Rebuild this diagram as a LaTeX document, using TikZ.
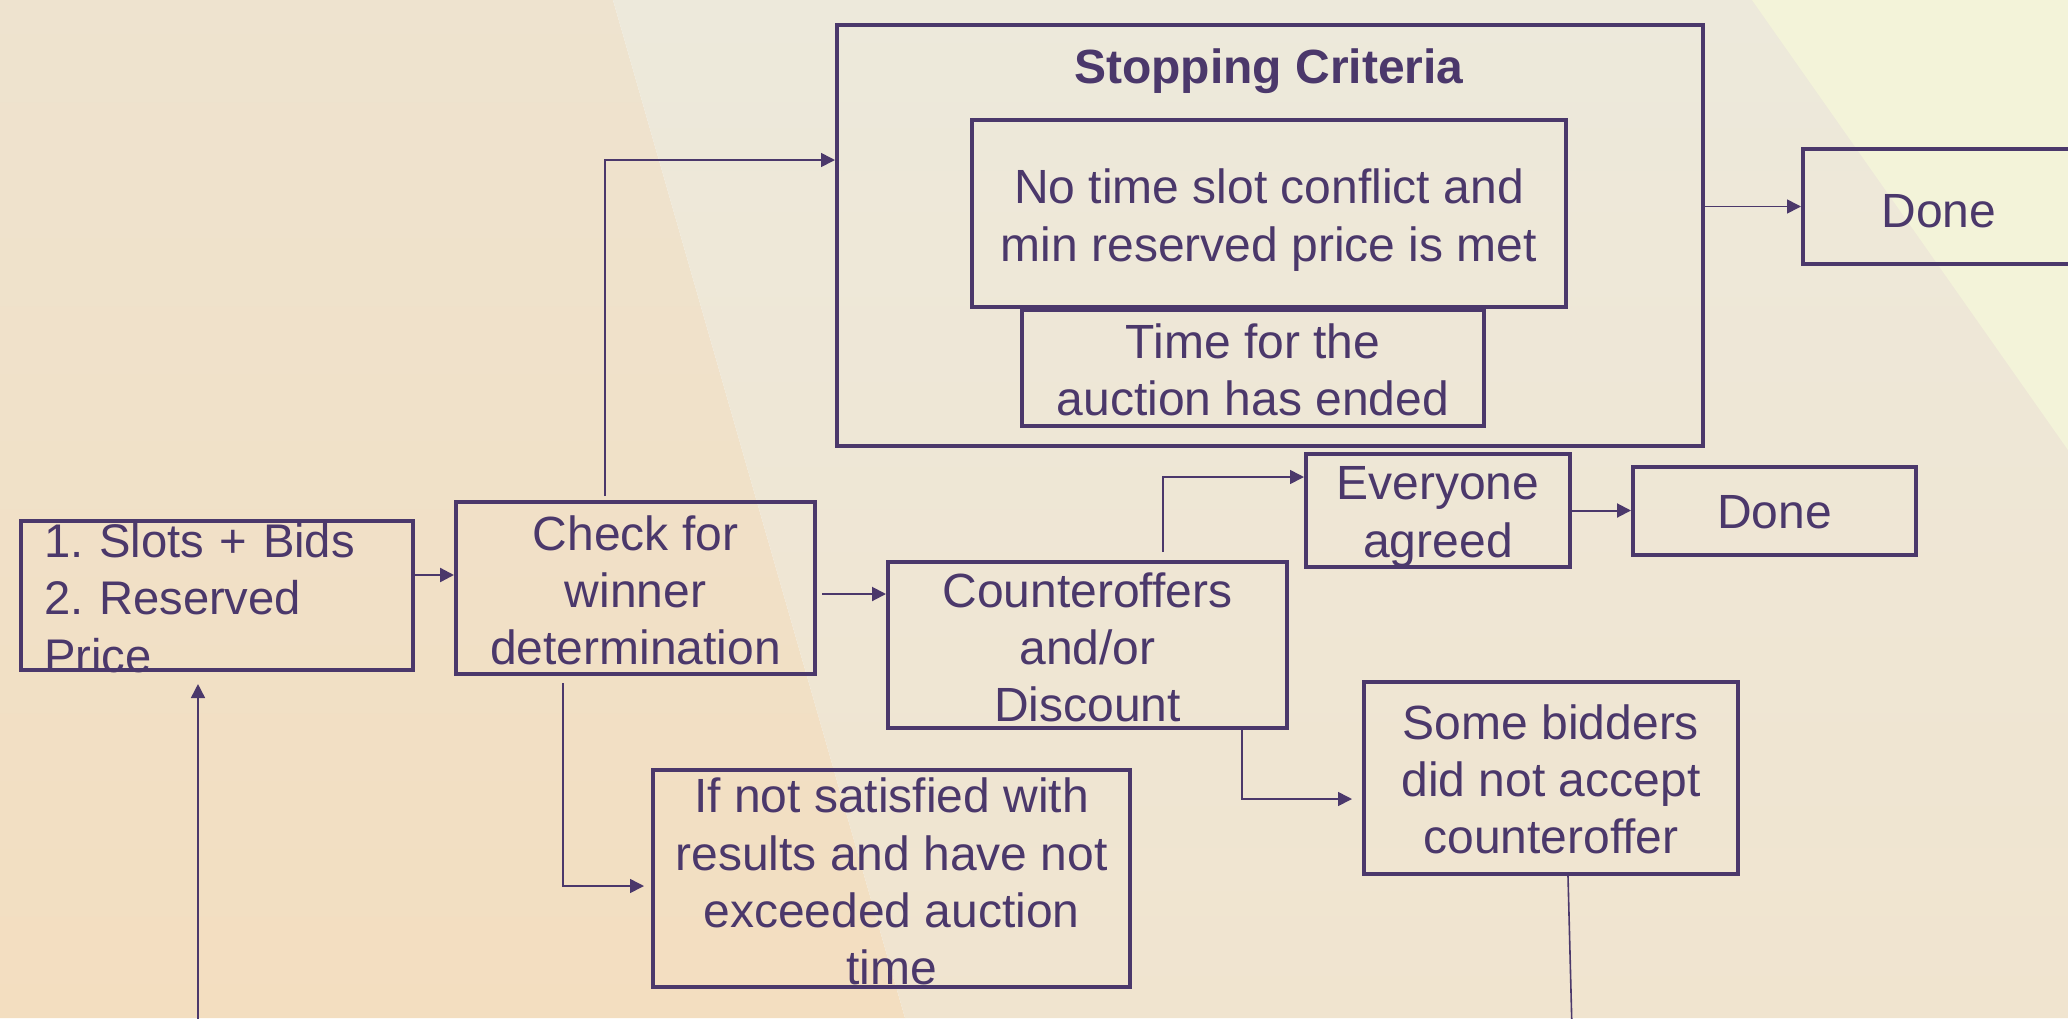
\documentclass[tikz,border=0pt]{standalone}
\usepackage{fontspec}
\setmainfont{Liberation Sans}
\frenchspacing
\usetikzlibrary{arrows.meta,positioning}
\definecolor{ink}{RGB}{75,56,107}
\definecolor{peachtop}{RGB}{238,227,207}
\definecolor{peachbot}{RGB}{243,222,192}
\definecolor{sandtop}{RGB}{237,233,219}
\definecolor{sandbot}{RGB}{240,228,207}
\definecolor{paleyel}{RGB}{243,243,217}
% invisible rule that lowers the first text line of a box
\newcommand{\tstrut}[1]{\rule{0pt}{#1}}
% a line drawn a little lower, keeping its size
\newcommand{\lowline}[1]{\raisebox{-1.3pt}[\height][\depth]{#1}}

\begin{document}
\begin{tikzpicture}[x=0.5pt, y=-0.5pt, font=\fontsize{24}{28.6}\selectfont,
  box/.style={draw=ink, line width=2pt, text=ink, inner sep=0pt, align=center},
  arrow/.style={-{Triangle[length=7pt,width=7pt]}, draw=ink, line width=0.8pt},
  link/.style={draw=ink, line width=0.8pt}]
  % page and background
  \useasboundingbox (0,0) rectangle (2068,1018);
  \clip (0,0) rectangle (2068,1018);
  \shade[top color=peachtop, bottom color=peachbot] (0,0) -- (613,0) -- (905,1018) -- (0,1018) -- cycle;
  \shade[top color=sandtop, bottom color=sandbot] (613,0) -- (2068,0) -- (2068,1018) -- (905,1018) -- cycle;
  \fill[paleyel] (1752,0) -- (2068,0) -- (2068,450) -- cycle;

  % boxes
  \node[box, align=left, font=\fontsize{23.6}{28.6}\selectfont, minimum width=196pt, minimum height=74.5pt, text width=173pt, inner xsep=11.5pt] (slots) at (217,595.5) {\lowline{1. Slots + Bids}\\\lowline{2. Reserved}\\\lowline{Price}};
  \node[box, minimum width=179.5pt, minimum height=86pt] (check) at (635.5,588) {\tstrut{20pt}Check for\\winner\\determination};
  \node[box, minimum width=433pt, minimum height=210.5pt] (stop) at (1270,235.5) {};
  \node[text=ink, anchor=base] (stoptitle) at (1269,83) {\bfseries Stopping Criteria};
  \node[box, minimum width=297pt, minimum height=93.5pt] (crit1) at (1269,213.5) {\tstrut{24pt}No time slot conflict and\\min reserved price is met};
  \node[box, minimum width=231pt, minimum height=58pt] (crit2) at (1253,368) {\tstrut{19.5pt}Time for the\\auction has ended};
  \node[box, minimum width=136pt, minimum height=57.5pt] (done1) at (1939,206.5) {\tstrut{21pt}Done};
  \node[box, minimum width=199.5pt, minimum height=83pt] (counter) at (1087.5,645) {\tstrut{20pt}Counteroffers\\and/or\\Discount};
  \node[box, minimum width=132pt, minimum height=56.5pt] (agreed) at (1438,510.5) {\tstrut{23pt}Everyone\\agreed};
  \node[box, minimum width=141.5pt, minimum height=44pt, right=29.5pt of agreed] (done2) {\tstrut{18.5pt}Done};
  \node[box, minimum width=187pt, minimum height=96pt] (bidders) at (1551,778) {\tstrut{19pt}Some bidders\\did not accept\\counteroffer};
  \node[box, minimum width=238.5pt, minimum height=108.5pt] (ifnot) at (891.5,878.5) {\tstrut{20.5pt}If not satisfied with\\results and have not\\exceeded auction\\time};

  % loose ends at the page edge
  \coordinate (slotsin) at (198,1030);
  \coordinate (bidout) at (1572,1030);
  \coordinate (a1) at ([yshift=10.25pt]slots.east);
  \coordinate (a3) at ([yshift=-3pt]check.east);

  % connectors
  \draw[arrow, line width=1.2pt] (a1) -- (a1 -| check.west);
  \draw[arrow] ([xshift=-15.25pt,yshift=2pt]check.north) |- ([yshift=37.75pt]stop.west);
  \draw[arrow, line width=1pt, shorten <=2.5pt] (a3) -- (a3 -| counter.west);
  \draw[arrow] ([xshift=37.75pt,yshift=4pt]counter.north) |- ([yshift=16.75pt]agreed.west);
  \draw[arrow, line width=1pt] (agreed) -- (done2);
  \draw[arrow] (stop.east |- done1.west) -- (done1.west);
  \draw[arrow, shorten >=5pt] ([xshift=77.25pt]counter.south) |- ([yshift=-10.5pt]bidders.west);
  \draw[arrow, shorten >=3.5pt] ([xshift=-36.25pt,yshift=-3.5pt]check.south) |- ([yshift=-3.75pt]ifnot.west);
  \draw[link] ([xshift=8.5pt]bidders.south) -- (bidout);
  \draw[arrow, shorten >=6pt] (slotsin) -- (slotsin |- slots.south);
\end{tikzpicture}
\end{document}
